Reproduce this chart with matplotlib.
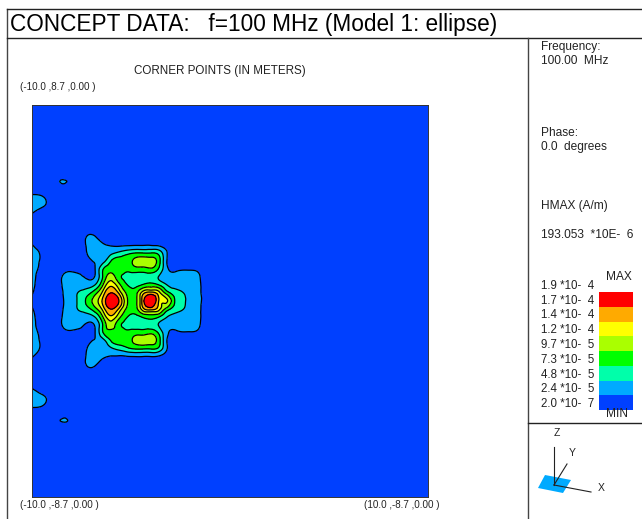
import numpy as np
import matplotlib
matplotlib.use("Agg")
import matplotlib.pyplot as plt
import matplotlib.tri as mtri
from matplotlib.patches import Polygon

plt.rcParams['font.family'] = ['Liberation Sans', 'DejaVu Sans']

# field values in units of 1e-5 A/m, upper half of the plate, row 0 is y=0
row_00 = [2.0,1.2,1.0,1.5,2.4,3.6,5.5,8.0,11,15,21,16.8,10,9.0,15.5,22,14,12.3,7.4,5.4,3.6,2.8,1.6,1.0]
row_01 = [2.6,1.3,1.0,1.6,2.45,3.4,5.2,6.5,9,13,17.1,13.5,9.2,8.6,13.2,15.2,12.8,8.8,6.2,5,3.5,2.7,1.6,1.0]
row_02 = [2.9,1.6,1.0,1.6,2.6,3.2,3.2,3.6,5,10,13.5,10.4,7.4,6.5,7.6,8.4,7.4,4.9,3.9,3.6,3.2,2.7,1.6,1.0]
row_03 = [3.1,1.7,1.0,1.5,2.6,2.9,2.6,2.1,2.7,7.8,10.8,8,6.6,6,6,6,4.7,3.4,3,3,3,2.6,1.6,1.0]
row_04 = [3.0,2.1,1.0,1.0,1.8,2.0,1.8,1.5,2.5,7.3,9,9,8,8.8,8.8,9.3,7,3,2,2.2,2.2,2,1.3,1.0]
row_05 = [3.2,2.3,1.0,1.0,1.0,1.0,1.0,1.8,2.6,3.9,7.4,8.7,8.8,10.2,10.8,10.8,8.4,2.5,1.3,1,1,1,1,1]
row_06 = [3.0,2.3,1.0,1.0,1.0,1.0,1.1,2.5,3.0,2.9,4.2,5.4,6.5,7.3,7.3,7.3,6.5,2.6,1.1,1,1,1,1,1]
row_07 = [2.5,1.5,1,1,1,1,1.4,2.7,3.2,2.6,2.2,2.0,2.1,2.2,2.2,2.2,2.0,1.2,1,1,1,1,1,1]
row_08 = [1.2,1,1,1,1,1,1.1,2.6,2.5,1.4,1,1,1,1,1,1,1,1,1,1,1,1,1,1]
row_09 = [1,1,1,1,1,1,1,1.3,1.3,1,1,1,1,1,1,1,1,1,1,1,1,1,1,1]
row_10 = [1,1,1,1,1,1,1,1,1,1,1,1,1,1,1,1,1,1,1,1,1,1,1,1]
row_11 = [2.5,1.6,1,1,1,1,1,1,1,1,1,1,1,1,1,1,1,1,1,1,1,1,1,1]
row_12 = [3.2,3.0,2.0,1,1,1,1,1,1,1,1,1,1,1,1,1,1,1,1,1,1,1,1,1]
row_13 = [2.9,2.8,1.8,1,1,1,1,1,1,1,1,1,1,1,1,1,1,1,1,1,1,1,1,1]
row_14 = [1.3,1.1,1,1,1.2,1,1,1,1,1,1,1,1,1,1,1,1,1,1,1,1,1,1,1]
row_15 = [1,1,1,1.9,2.55,1.9,1,1,1,1,1,1,1,1,1,1,1,1,1,1,1,1,1,1]
row_16 = [1,1,1,1,1,1,1,1,1,1,1,1,1,1,1,1,1,1,1,1,1,1,1,1]
background = 1.0

levels = [-5, 2.4, 4.8, 7.3, 9.7, 12, 14, 17, 40]
band_colors = ['#0040ff', '#00aaff', '#00ffaa', '#00ff00', '#aaff00', '#ffff00', '#ffaa00', '#ff0000']
legend_labels = ['1.9 *10-  4', '1.7 *10-  4', '1.4 *10-  4', '1.2 *10-  4', '9.7 *10-  5',
                 '7.3 *10-  5', '4.8 *10-  5', '2.4 *10-  5', '2.0 *10-  7']

x_grid = np.append(-10 + 0.4 * np.arange(24), 10.0)
y_upper = np.append(0.355 * np.arange(17), 8.7)

upper = np.array([row_00, row_01, row_02, row_03, row_04, row_05, row_06, row_07, row_08,
                  row_09, row_10, row_11, row_12, row_13, row_14, row_15, row_16], dtype=float)
upper = np.vstack([upper, np.full(24, background)])
upper = np.column_stack([upper, np.full(18, background)])

# plate is symmetric about y=0
field = np.vstack([upper[:0:-1], upper])
y_grid = np.concatenate([-y_upper[:0:-1], y_upper])

# rounder contours, as in the solver's plot
gx, gy = np.meshgrid(x_grid, y_grid)
tri = mtri.Triangulation(gx.ravel(), gy.ravel())
refiner = mtri.UniformTriRefiner(tri)
fine_tri, fine_field = refiner.refine_field(field.ravel(), subdiv=3)

W, H = 642, 519
fig = plt.figure(figsize=(W / 100, H / 100), dpi=100, facecolor='white')

# page overlay in pixel coordinates
page = fig.add_axes([0, 0, 1, 1])
page.set_xlim(0, W)
page.set_ylim(H, 0)
page.axis('off')

frame = '#222222'
page.plot([7, 7], [9, H], color='#444444', lw=1.0)
page.plot([7, W], [9, 9], color=frame, lw=1.0)
page.plot([7, W], [38, 38], color=frame, lw=1.0)
page.plot([528, 528], [38, H], color='#444444', lw=1.0)
page.plot([528, W], [423, 423], color=frame, lw=1.0)

txt = '#222222'
side = 8.6
page.text(10, 25, 'CONCEPT DATA:   f=100 MHz (Model 1: ellipse)', fontsize=16.3, color='black', va='center')
page.text(134, 71, 'CORNER POINTS (IN METERS)', fontsize=8.4, color=txt, va='center')
page.text(20, 86.5, '(-10.0 ,8.7 ,0.00 )', fontsize=7.1, color=txt, va='center')
page.text(20, 505, '(-10.0 ,-8.7 ,0.00 )', fontsize=7.1, color=txt, va='center')
page.text(364, 505, '(10.0 ,-8.7 ,0.00 )', fontsize=7.1, color=txt, va='center')

page.text(541, 47, 'Frequency:', fontsize=side, color=txt, va='center')
page.text(541, 61, '100.00  MHz', fontsize=side, color=txt, va='center')
page.text(541, 132.5, 'Phase:', fontsize=side, color=txt, va='center')
page.text(541, 147, '0.0  degrees', fontsize=side, color=txt, va='center')
page.text(541, 205.5, 'HMAX (A/m)', fontsize=side, color=txt, va='center')
page.text(541, 234.5, '193.053  *10E-  6', fontsize=side, color=txt, va='center')

# colour key
key_top, key_step = 292, 14.75
for i, c in enumerate(band_colors[::-1]):
    page.fill_between([599, 633], key_top + i * key_step, key_top + (i + 1) * key_step, color=c, lw=0)
for i, lab in enumerate(legend_labels):
    page.text(541, 286 + i * key_step, lab, fontsize=8.3, color=txt, va='center')
page.text(619, 277.5, 'MAX', fontsize=8.6, color=txt, ha='center', va='center')
page.text(617, 414, 'MIN', fontsize=8.6, color=txt, ha='center', va='center')

# orientation icon
page.add_patch(Polygon([(545, 475), (571, 480), (563, 493), (538, 488)], closed=True, color='#00aaff', lw=0))
page.plot([554, 554], [485, 447], color='#222222', lw=0.8)
page.plot([554, 567], [485, 464], color='#222222', lw=0.8)
page.plot([554, 591], [485, 492], color='#222222', lw=0.8)
page.text(557, 433, 'Z', fontsize=7.5, color=txt, ha='center', va='center')
page.text(572, 453, 'Y', fontsize=7.5, color=txt, ha='center', va='center')
page.text(601, 488, 'X', fontsize=7.5, color=txt, ha='center', va='center')

# contour plate
ax = fig.add_axes([32 / W, 1 - 497 / H, 396 / W, 392 / H])
ax.tricontourf(fine_tri, fine_field, levels=levels, colors=band_colors)
ax.tricontour(fine_tri, fine_field, levels=levels[1:-1], colors='black', linewidths=0.9)
ax.set_xlim(-10, 10)
ax.set_ylim(-8.7, 8.7)
ax.set_xticks([])
ax.set_yticks([])
for s in ax.spines.values():
    s.set_linewidth(0.7)
    s.set_color('#333333')

plt.savefig('out.png', dpi=100)
